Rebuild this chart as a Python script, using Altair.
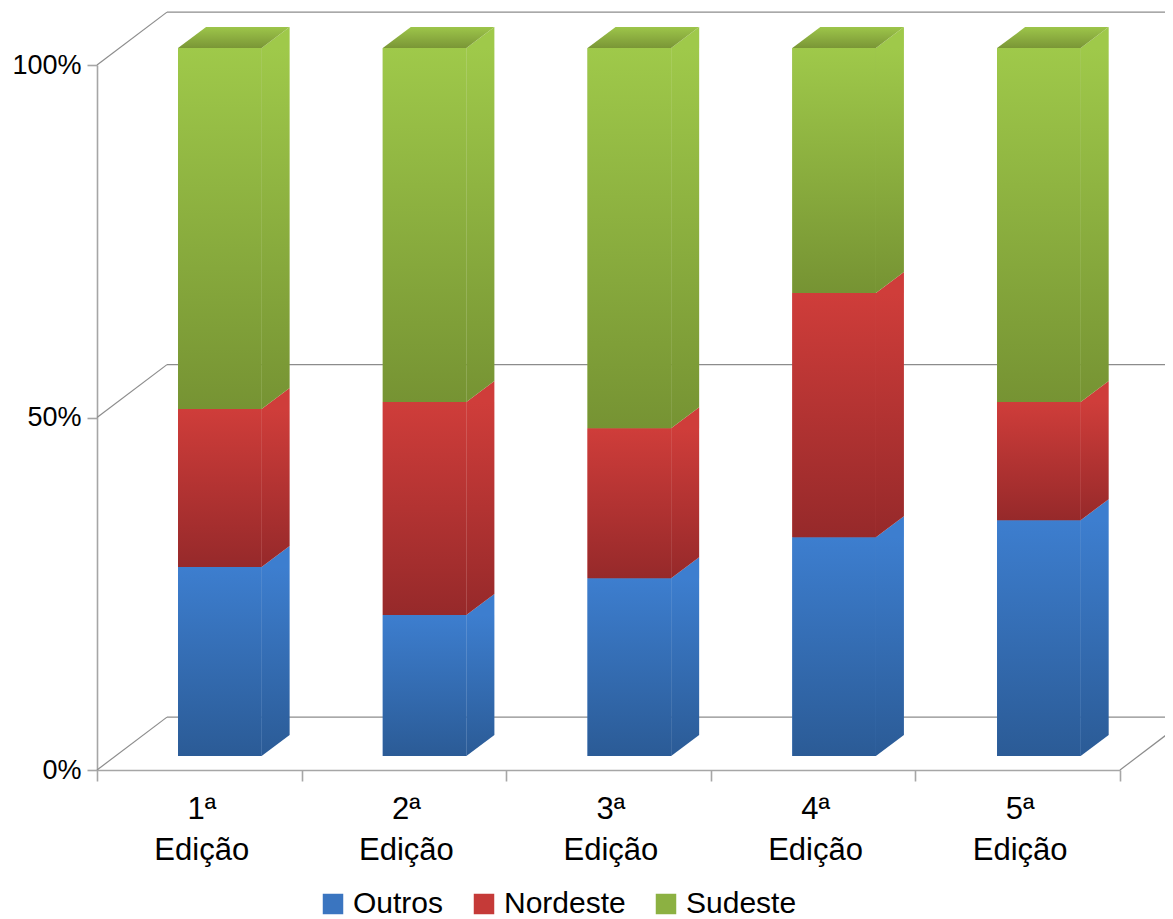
import altair as alt
import pandas as pd

# Values (percent)
edicoes = ["1ª\nEdição", "2ª\nEdição", "3ª\nEdição", "4ª\nEdição", "5ª\nEdição"]
series = ["Outros", "Nordeste", "Sudeste"]
outros = [26.7, 19.9, 25.1, 30.9, 33.3]
nordeste = [22.3, 30.1, 21.2, 34.5, 16.7]
sudeste = [51.0, 50.0, 53.7, 34.6, 50.0]
y_ticks = [0, 50, 100]
x_ticks = [0, 1, 2, 3, 4, 5]

flat = ["#3a75c0", "#c53a38", "#8cb142"]
grads = {
    "Outros": ("#3d7ecf", "#2b5b96"),
    "Nordeste": ("#cf3d3a", "#96292a"),
    "Sudeste": ("#9fc94a", "#769333"),
}
top_grad = ("#9dc54a", "#7a9636")
FONT = "Liberation Sans"
AXIS = "#a6a6a6"
GRID = "#8c8c8c"

# Perspective of the drawing, in axis units
X_MAX = 5.26
START, STEP, BAR_W = 0.396, 1.0008, 0.4085
DX, DY = 0.137, 2.98
BASE, K = 2.0, 1.004
WALL_X, WALL_Y = 0.342, 7.5
RIGHT_X, RIGHT_Y = 0.259, 5.7


def gradient(pair, start=0.0):
    return alt.LinearGradient(
        gradient="linear", x1=0, x2=0, y1=0, y2=1,
        stops=[alt.GradientStop(offset=start, color=pair[0]),
               alt.GradientStop(offset=1, color=pair[1])],
    )


front, side, top = [], [], []
for i, _ in enumerate(edicoes):
    x0 = START + STEP * i
    x1 = x0 + BAR_W
    lo = 0.0
    for name, vals in zip(series, (outros, nordeste, sudeste)):
        hi = lo + vals[i]
        yb, yt = BASE + K * lo, BASE + K * hi
        front.append(dict(s=name, x=x0, x2=x1, y=yb, y2=yt))
        key = f"{i}-{name}"
        side.append(dict(s=name, k=key, x=x1, y=yb, y2=yt, o=DY / (yt - yb + DY)))
        side.append(dict(s=name, k=key, x=x1 + DX, y=yb + DY, y2=yt + DY, o=DY / (yt - yb + DY)))
        lo = hi
    yt = BASE + K * lo
    k = str(i)
    top += [dict(k=k, x=x0, y=yt, y2=yt),
            dict(k=k, x=x0 + DX, y=yt, y2=yt + DY),
            dict(k=k, x=x1, y=yt, y2=yt + DY),
            dict(k=k, x=x1 + DX, y=yt + DY, y2=yt + DY)]

front_df = pd.DataFrame(front)
side_df = pd.DataFrame(side)
top_df = pd.DataFrame(top)
labels_df = pd.DataFrame({"x": [i + 0.512 for i in range(5)], "y": [-6.9] * 5, "t": edicoes})
back_df = pd.DataFrame({"x": [WALL_X] * 3, "x2": [X_MAX] * 3,
                        "y": [v + WALL_Y for v in y_ticks]})
wall_df = pd.DataFrame({"x": [0] * 3, "x2": [WALL_X] * 3, "y": y_ticks,
                        "y2": [v + WALL_Y for v in y_ticks]})
right_df = pd.DataFrame({"x": [5], "x2": [5 + RIGHT_X], "y": [0], "y2": [RIGHT_Y]})

xs = alt.Scale(domain=[0, 5], nice=False, zero=False)
ys = alt.Scale(domain=[0, 100], nice=False, zero=False)
X = alt.X("x:Q", scale=xs, title=None,
          axis=alt.Axis(values=x_ticks, labels=False, tickSize=11, tickColor=AXIS,
                        domainColor=AXIS, tickWidth=1.6, domainWidth=1.6, grid=False))
Y = alt.Y("y:Q", scale=ys, title=None, stack=None,
          axis=alt.Axis(values=y_ticks, format=".0~f", labelExpr="datum.label + '%'",
                        tickSize=10, tickColor=AXIS, domainColor=AXIS, tickWidth=1.6,
                        domainWidth=1.6, grid=False, labelFont=FONT, labelFontSize=27,
                        labelColor="#000000", labelPadding=6))

axes = alt.Chart(back_df).mark_rule(color=GRID, strokeWidth=1.2).encode(x=X, x2="x2:Q", y=Y)
wall = alt.Chart(wall_df).mark_rule(color=GRID, strokeWidth=1.2).encode(
    x=alt.X("x:Q", scale=xs), x2="x2:Q", y=alt.Y("y:Q", scale=ys), y2="y2:Q")
right = alt.Chart(right_df).mark_rule(color=GRID, strokeWidth=1.2).encode(
    x=alt.X("x:Q", scale=xs), x2="x2:Q", y=alt.Y("y:Q", scale=ys), y2="y2:Q")

flat_rect = alt.Chart(front_df).mark_rect().encode(
    x=alt.X("x:Q", scale=xs), x2="x2:Q",
    y=alt.Y("y:Q", scale=ys, stack=None), y2="y2:Q",
    color=alt.Color("s:N", title=None,
                    scale=alt.Scale(domain=series, range=flat),
                    legend=alt.Legend(orient="none", direction="horizontal",
                                      legendX=221, legendY=824, padding=0,
                                      symbolType="square", symbolSize=420,
                                      symbolStrokeWidth=0, labelFont=FONT,
                                      labelFontSize=30, labelColor="#000000",
                                      labelOffset=5, columnPadding=25,
                                      labelLimit=300, columns=3,
                                      values=series)),
)

layers = [axes, wall, right, flat_rect]
for name in series:
    layers.append(
        alt.Chart(front_df[front_df.s == name]).mark_rect(color=gradient(grads[name])).encode(
            x=alt.X("x:Q", scale=xs), x2="x2:Q",
            y=alt.Y("y:Q", scale=ys, stack=None), y2="y2:Q")
    )
    for key, part in side_df[side_df.s == name].groupby("k"):
        layers.append(
            alt.Chart(part).mark_area(color=gradient(grads[name], float(part.o.iloc[0]))).encode(
                x=alt.X("x:Q", scale=xs),
                y=alt.Y("y:Q", scale=ys, stack=None), y2="y2:Q")
        )
layers.append(
    alt.Chart(top_df).mark_area(color=gradient(top_grad)).encode(
        x=alt.X("x:Q", scale=xs),
        y=alt.Y("y:Q", scale=ys, stack=None), y2="y2:Q", detail="k:N")
)
layers.append(
    alt.Chart(labels_df).mark_text(font=FONT, fontSize=31, lineBreak="\n", lineHeight=41,
                                   align="center", baseline="alphabetic",
                                   color="#000000").encode(
        x=alt.X("x:Q", scale=xs), y=alt.Y("y:Q", scale=ys), text="t:N")
)

chart = alt.layer(*layers).properties(
    width=1023, height=705,
    autosize=alt.AutoSizeParams(type="none"),
    padding={"left": 89, "top": 57, "right": 45, "bottom": 149},
    background="#ffffff",
).configure_view(stroke=None)

chart.save("out.html", embed_options={"renderer": "svg", "actions": False})
